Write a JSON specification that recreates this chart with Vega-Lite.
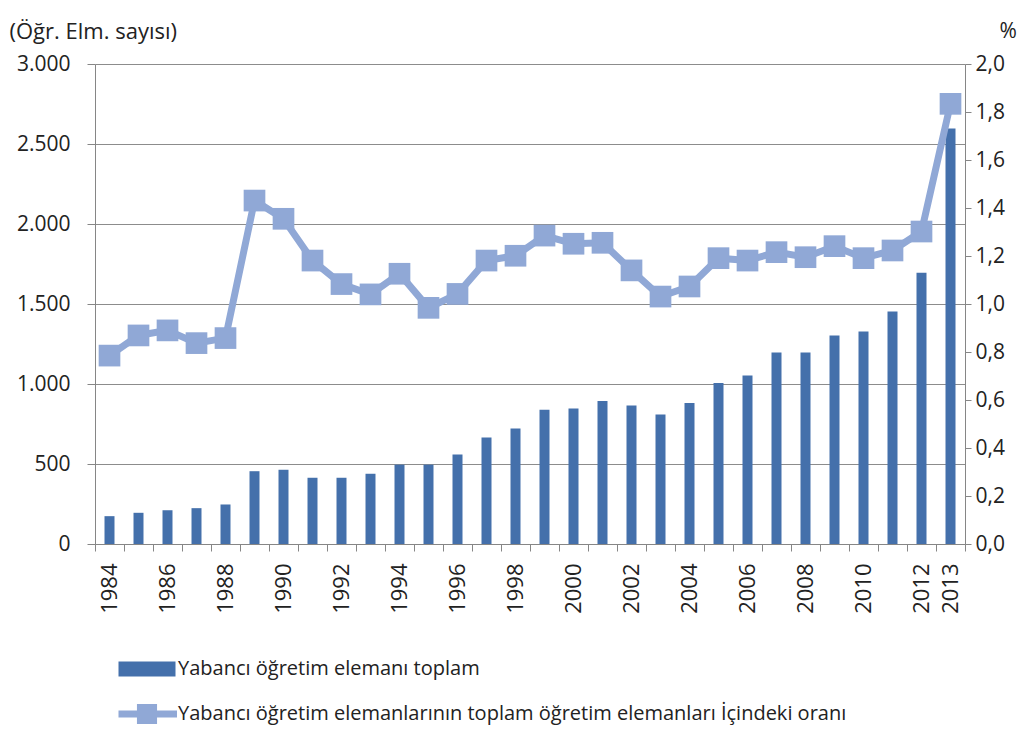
{
  "$schema": "https://vega.github.io/schema/vega-lite/v6.json",
  "width": 870,
  "height": 480,
  "autosize": {"type": "none"},
  "padding": {"left": 95, "top": 64, "right": 59, "bottom": 185},
  "background": "white",
  "config": {
    "view": {"stroke": null},
    "font": "Open Sans",
    "axis": {"labelFont": "Open Sans", "titleFont": "Open Sans", "labelColor": "#222", "titleColor": "#222", "domainColor": "#868686", "tickColor": "#868686", "titleFontWeight": "normal"}
  },
  "data": {
    "values": [
      {"year": 1984, "count": 174, "ratio": 0.785},
      {"year": 1985, "count": 195, "ratio": 0.869},
      {"year": 1986, "count": 211, "ratio": 0.890},
      {"year": 1987, "count": 224, "ratio": 0.837},
      {"year": 1988, "count": 247, "ratio": 0.858},
      {"year": 1989, "count": 455, "ratio": 1.431},
      {"year": 1990, "count": 464, "ratio": 1.355},
      {"year": 1991, "count": 414, "ratio": 1.181},
      {"year": 1992, "count": 414, "ratio": 1.083},
      {"year": 1993, "count": 439, "ratio": 1.040},
      {"year": 1994, "count": 496, "ratio": 1.126},
      {"year": 1995, "count": 496, "ratio": 0.984},
      {"year": 1996, "count": 559, "ratio": 1.042},
      {"year": 1997, "count": 666, "ratio": 1.181},
      {"year": 1998, "count": 722, "ratio": 1.201},
      {"year": 1999, "count": 839, "ratio": 1.285},
      {"year": 2000, "count": 847, "ratio": 1.251},
      {"year": 2001, "count": 893, "ratio": 1.255},
      {"year": 2002, "count": 866, "ratio": 1.140},
      {"year": 2003, "count": 809, "ratio": 1.031},
      {"year": 2004, "count": 882, "ratio": 1.073},
      {"year": 2005, "count": 1007, "ratio": 1.191},
      {"year": 2006, "count": 1053, "ratio": 1.181},
      {"year": 2007, "count": 1197, "ratio": 1.216},
      {"year": 2008, "count": 1197, "ratio": 1.195},
      {"year": 2009, "count": 1303, "ratio": 1.241},
      {"year": 2010, "count": 1328, "ratio": 1.191},
      {"year": 2011, "count": 1453, "ratio": 1.223},
      {"year": 2012, "count": 1695, "ratio": 1.302},
      {"year": 2013, "count": 2597, "ratio": 1.834}
    ]
  },
  "encoding": {
    "x": {
      "field": "year",
      "type": "ordinal",
      "scale": {"paddingInner": 0, "paddingOuter": 0},
      "axis": {
        "title": null,
        "labelAngle": -90,
        "labelFontSize": 22,
        "labelPadding": 12,
        "tickSize": 7,
        "tickBand": "extent",
        "labelOverlap": false,
        "labelBound": false,
        "labelExpr": "(datum.value % 2 == 0 || datum.value == 2013) ? datum.label : ''",
        "grid": false
      }
    }
  },
  "layer": [
    {
      "mark": {"type": "bar", "size": 10},
      "encoding": {
        "y": {
          "field": "count",
          "type": "quantitative",
          "scale": {"domain": [0, 3000], "nice": false},
          "axis": {
            "orient": "left",
            "values": [0, 500, 1000, 1500, 2000, 2500, 3000],
            "labelExpr": "replace(format(datum.value, ',d'), ',', '.')",
            "labelFontSize": 21,
            "labelPadding": 17,
            "tickSize": 8,
            "grid": true,
            "gridColor": "#8c8c8c",
            "gridWidth": 1,
            "title": "(Öğr. Elm. sayısı)",
            "titleAngle": 0,
            "titleAlign": "left",
            "titleBaseline": "middle",
            "titleFontSize": 22,
            "titleX": -86,
            "titleY": -33
          }
        },
        "color": {
          "datum": "Yabancı öğretim elemanı toplam",
          "type": "nominal",
          "scale": {
            "domain": ["Yabancı öğretim elemanı toplam", "Yabancı öğretim elemanlarının toplam öğretim elemanları İçindeki oranı"],
            "range": ["#4470AB", "#90A8D6"]
          },
          "legend": {
            "title": null,
            "orient": "none",
            "legendX": 37,
            "legendY": 590,
            "padding": 0,
            "direction": "vertical",
            "symbolSize": 900,
            "labelFontSize": 20,
            "labelColor": "#222",
            "labelFont": "Open Sans",
            "labelOffset": 16,
            "rowPadding": 20,
            "labelLimit": 900,
            "encode": {
              "symbols": {
                "update": {
                  "shape": {"signal": "datum.value === 'Yabancı öğretim elemanı toplam' ? 'M-1.9,-0.5 L1.9,-0.5 L1.9,0.5 L-1.9,0.5 Z' : 'M-1.9,-0.23 L-0.67,-0.23 L-0.67,-0.67 L0.67,-0.67 L0.67,-0.23 L2.0,-0.23 L2.0,0.23 L0.67,0.23 L0.67,0.67 L-0.67,0.67 L-0.67,0.23 L-1.9,0.23 Z'"},
                  "fill": {"signal": "datum.value === 'Yabancı öğretim elemanı toplam' ? '#4470AB' : '#90A8D6'"},
                  "stroke": {"value": "transparent"},
                  "strokeWidth": {"value": 0},
                  "opacity": {"value": 1},
                  "fillOpacity": {"value": 1}
                }
              }
            }
          }
        }
      }
    },
    {
      "layer": [
        {
          "mark": {"type": "line", "strokeWidth": 7},
          "encoding": {
            "color": {"datum": "Yabancı öğretim elemanlarının toplam öğretim elemanları İçindeki oranı", "type": "nominal"}
          }
        },
        {
          "mark": {"type": "point", "shape": "square", "filled": true, "size": 470, "opacity": 1},
          "encoding": {
            "color": {"datum": "Yabancı öğretim elemanlarının toplam öğretim elemanları İçindeki oranı", "type": "nominal"}
          }
        }
      ],
      "encoding": {
        "y": {
          "field": "ratio",
          "type": "quantitative",
          "scale": {"domain": [0, 2], "nice": false},
          "axis": {
            "orient": "right",
            "values": [0, 0.2, 0.4, 0.6, 0.8, 1.0, 1.2, 1.4, 1.6, 1.8, 2.0],
            "labelExpr": "replace(format(datum.value, '.1f'), '.', ',')",
            "labelFontSize": 21,
            "labelPadding": 4,
            "tickSize": 6,
            "grid": false,
            "title": "%",
            "titleAngle": 0,
            "titleAlign": "left",
            "titleBaseline": "middle",
            "titleFontSize": 21,
            "titleX": 34,
            "titleY": -33
          }
        }
      }
    }
  ],
  "resolve": {"scale": {"y": "independent"}}
}
